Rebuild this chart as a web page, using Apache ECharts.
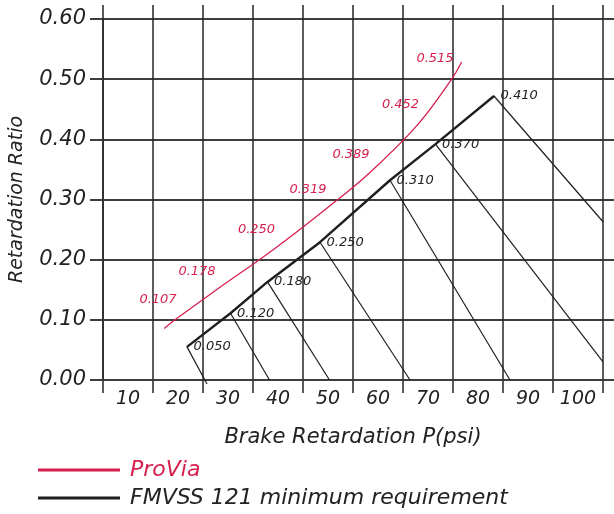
<!DOCTYPE html>
<html>
<head>
<meta charset="utf-8">
<script src="https://cdn.jsdelivr.net/npm/echarts@6/dist/echarts.min.js"></script>
<style>
  html, body { margin: 0; padding: 0; background: #fff; }
  #chart { width: 614px; height: 514px; }
</style>
</head>
<body>
<div id="chart"></div>
<script>
// x tick labels (pressure, psi) - one per column
const pressureLabels = ['10', '20', '30', '40', '50', '60', '70', '80', '90', '100'];

// ProVia curve (P in psi, ratio)
const proViaP     = [17.3, 19.4, 27.2, 39.1, 49.4, 58.0, 67.9, 74.8, 76.7];
const proViaRatio = [0.086, 0.100, 0.147, 0.217, 0.283, 0.342, 0.424, 0.501, 0.528];
const proViaTags  = ['', '0.107', '0.178', '0.250', '0.319', '0.389', '0.452', '0.515', ''];

// FMVSS 121 minimum requirement line
const fmvssP     = [21.8, 30.5, 37.9, 48.4, 62.4, 71.5, 83.2];
const fmvssRatio = [0.055, 0.111, 0.163, 0.229, 0.332, 0.392, 0.472];
const fmvssTags  = ['0.050', '0.120', '0.180', '0.250', '0.310', '0.370', '0.410'];

// where each slanted drop line from the FMVSS points ends
const dropEndP     = [25.8, 38.3, 50.3, 66.4, 86.4, 105, 105];
const dropEndRatio = [-0.0066, 0, 0, 0, 0, 0.030, 0.263];

const RED = '#d71f4d';
const INK = '#1f1f1f';
const GRID_V = '#262626';
const GRID_H = '#3d3d3d';
const FONT = 'DejaVu Sans';

let chart = echarts.init(document.getElementById('chart'));

let series = [];
// drop lines
for (let i = 0; i < fmvssP.length; i++) {
    series.push({
        name: 'drop' + i,
        type: 'line',
        xAxisIndex: 1,
        yAxisIndex: 0,
        data: [[fmvssP[i], fmvssRatio[i]], [dropEndP[i], dropEndRatio[i]]],
        symbol: 'none',
        clip: false,
        silent: true,
        lineStyle: { color: INK, width: 1.2 }
    });
}
series.push({
    name: 'FMVSS 121 minimum requirement',
    type: 'line',
    xAxisIndex: 1,
    yAxisIndex: 0,
    data: fmvssP.map((p, i) => ({ value: [p, fmvssRatio[i]], name: fmvssTags[i] })),
    symbol: 'circle',
    symbolSize: 1,
    itemStyle: { color: INK },
    lineStyle: { color: INK, width: 2.4 },
    label: {
        show: true,
        position: 'right',
        distance: 6,
        formatter: p => p.name,
        color: '#222',
        fontFamily: FONT,
        fontStyle: 'italic',
        fontSize: 13
    }
});
series.push({
    name: 'ProVia',
    type: 'line',
    xAxisIndex: 1,
    yAxisIndex: 0,
    smooth: 0.4,
    data: proViaP.map((p, i) => ({ value: [p, proViaRatio[i]], name: proViaTags[i] })),
    symbol: 'circle',
    symbolSize: 1,
    itemStyle: { color: RED },
    lineStyle: { color: RED, width: 1.3 },
    label: {
        show: true,
        position: 'inside',
        offset: [-17, -20],
        formatter: p => p.name,
        color: RED,
        fontFamily: FONT,
        fontStyle: 'italic',
        fontSize: 13
    }
});

chart.setOption({
    animation: false,
    backgroundColor: '#fff',
    grid: { left: 98, right: 11, top: 19, bottom: 134 },
    legend: {
        orient: 'vertical',
        left: 38,
        top: 459,
        padding: 0,
        height: 54,
        icon: 'rect',
        itemWidth: 82,
        itemHeight: 3,
        itemGap: 6,
        textStyle: { fontFamily: FONT, fontStyle: 'italic', fontSize: 22, lineHeight: 22, padding: [0, 0, 0, 5] },
        data: [
            { name: 'ProVia', textStyle: { color: RED } },
            { name: 'FMVSS 121 minimum requirement', textStyle: { color: '#222' } }
        ]
    },
    xAxis: [
        {
            type: 'category',
            position: 'bottom',
            data: pressureLabels,
            boundaryGap: true,
            axisLine: { show: true, lineStyle: { color: GRID_H, width: 2 } },
            axisTick: { show: true, length: 13, lineStyle: { color: GRID_V, width: 1.5 } },
            splitLine: { show: true, lineStyle: { color: GRID_V, width: 1.5 } },
            axisLabel: { color: '#222', fontFamily: FONT, fontStyle: 'italic', fontSize: 19, margin: 10 },
            name: 'Brake Retardation P(psi)',
            nameLocation: 'middle',
            nameGap: 47,
            nameTextStyle: { color: '#222', fontFamily: FONT, fontStyle: 'italic', fontSize: 21 }
        },
        {
            type: 'value',
            position: 'bottom',
            min: 5,
            max: 105,
            show: false
        },
        {
            type: 'category',
            position: 'top',
            data: pressureLabels,
            boundaryGap: true,
            axisLine: { show: false },
            axisTick: { show: true, length: 14, lineStyle: { color: GRID_V, width: 1.5 } },
            axisLabel: { show: false },
            splitLine: { show: false }
        }
    ],
    yAxis: [
        {
            type: 'value',
            position: 'left',
            min: 0,
            max: 0.6,
            interval: 0.1,
            axisLine: { show: true, lineStyle: { color: GRID_V, width: 1.5 } },
            axisTick: { show: true, length: 13, lineStyle: { color: GRID_H, width: 2 } },
            splitLine: { show: true, lineStyle: { color: GRID_H, width: 2 } },
            axisLabel: {
                formatter: v => v.toFixed(2),
                color: '#222', fontFamily: FONT, fontStyle: 'italic', fontSize: 21, margin: 17
            },
            name: 'Retardation Ratio',
            nameLocation: 'middle',
            nameRotate: 90,
            nameGap: 76,
            nameTextStyle: { color: '#222', fontFamily: FONT, fontStyle: 'italic', fontSize: 19 }
        },
        {
            type: 'value',
            position: 'right',
            min: 0,
            max: 0.6,
            interval: 0.1,
            axisLine: { show: false },
            axisTick: { show: true, length: 11, lineStyle: { color: GRID_H, width: 2 } },
            axisLabel: { show: false },
            splitLine: { show: false }
        }
    ],
    series: series
});
</script>
</body>
</html>
